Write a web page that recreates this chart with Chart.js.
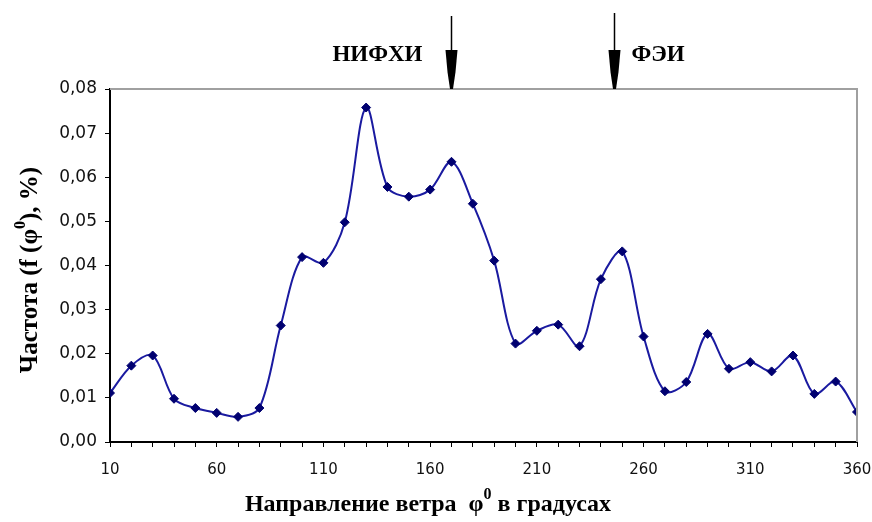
<!DOCTYPE html>
<html>
<head>
<meta charset="utf-8">
<script src="https://cdn.jsdelivr.net/npm/chart.js@4"></script>
<style>
  html, body { margin: 0; padding: 0; background: #fff; }
  #wrap { width: 872px; height: 522px; }
</style>
</head>
<body>
<div id="wrap"><canvas id="windChart" width="872" height="522"></canvas></div>
<script>
// направление ветра, градусы
var angles = [10, 20, 30, 40, 50, 60, 70, 80, 90, 100, 110, 120, 130, 140, 150, 160, 170, 180,
              190, 200, 210, 220, 230, 240, 250, 260, 270, 280, 290, 300, 310, 320, 330, 340, 350, 360];
// частота
var freq = [0.0111, 0.0173, 0.0196, 0.0098, 0.0077, 0.0066, 0.0057, 0.0077, 0.0264, 0.0419, 0.0406, 0.0498,
            0.0758, 0.0578, 0.0556, 0.0572, 0.0635, 0.0540, 0.0411, 0.0223, 0.0252, 0.0266, 0.0217, 0.0369,
            0.0432, 0.0239, 0.0115, 0.0136, 0.0245, 0.0166, 0.0181, 0.0160, 0.0196, 0.0109, 0.0137, 0.0068];
var xTickLabels = [10, 60, 110, 160, 210, 260, 310, 360];
// станции со стрелками
var stations = ['НИФХИ', 'ФЭИ'];
var stationAngles = [170, 246];

function serif(size) { return 'bold ' + size + 'px "Liberation Serif", "DejaVu Serif", serif'; }

// подпись с надстрочным нулём после φ
function drawPhiText(ctx, parts, cx, cy, size) {
  var w = 0;
  parts.forEach(function (p) {
    ctx.font = p[1] ? serif(16) : serif(size);
    w += ctx.measureText(p[0]).width;
  });
  var x = cx - w / 2;
  parts.forEach(function (p) {
    ctx.font = p[1] ? serif(16) : serif(size);
    ctx.fillText(p[0], x, p[1] ? cy - 10 : cy);
    x += ctx.measureText(p[0]).width;
  });
}

var extras = {
  id: 'extras',
  afterDraw: function (chart) {
    var ctx = chart.ctx, a = chart.chartArea, xs = chart.scales.x;
    ctx.save();
    // серая рамка сверху и справа
    ctx.strokeStyle = '#a0a0a0';
    ctx.lineWidth = 2;
    ctx.beginPath();
    ctx.moveTo(a.left, a.top);
    ctx.lineTo(a.right, a.top);
    ctx.lineTo(a.right, a.bottom);
    ctx.stroke();

    // стрелки
    ctx.fillStyle = '#000';
    ctx.strokeStyle = '#000';
    stationAngles.forEach(function (ang, i) {
      var x = Math.round(xs.getPixelForValue(ang)) + 0.5;
      ctx.lineWidth = 1.5;
      ctx.beginPath();
      ctx.moveTo(x, i === 0 ? 16 : 13);
      ctx.lineTo(x, 52);
      ctx.stroke();
      ctx.beginPath();
      ctx.moveTo(x - 6, 50);
      ctx.lineTo(x + 6, 50);
      ctx.lineTo(x + 4, 72);
      ctx.lineTo(x + 1.5, a.top);
      ctx.lineTo(x - 1.5, a.top);
      ctx.lineTo(x - 4, 72);
      ctx.closePath();
      ctx.fill();
      ctx.font = serif(23);
      ctx.textBaseline = 'middle';
      if (i === 0) {
        ctx.textAlign = 'right';
        ctx.fillText(stations[i], x - 29, 55);
      } else {
        ctx.textAlign = 'left';
        ctx.fillText(stations[i], x + 17, 55);
      }
    });

    // подпись оси X
    ctx.textAlign = 'left';
    ctx.textBaseline = 'middle';
    drawPhiText(ctx, [['Направление ветра  φ', false], ['0', true], [' в градусах', false]], 428, 505, 24);

    // подпись оси Y
    ctx.save();
    ctx.translate(31, 270);
    ctx.rotate(-Math.PI / 2);
    drawPhiText(ctx, [['Частота (f (φ', false], ['0', true], ['), %)', false]], 0, 0, 25);
    ctx.restore();
    ctx.restore();
  }
};

var ctx = document.getElementById('windChart').getContext('2d');
var windChart = new Chart(ctx, {
  type: 'line',
  data: {
    datasets: [{
      data: angles.map(function (a, i) { return { x: a, y: freq[i] }; }),
      borderColor: '#1a1aa0',
      borderWidth: 2,
      tension: 0.33,
      pointStyle: 'rectRot',
      pointRadius: 4.5,
      pointBackgroundColor: '#000070',
      pointBorderColor: '#000070',
      pointBorderWidth: 1
    }]
  },
  plugins: [extras],
  options: {
    responsive: false,
    animation: false,
    layout: { padding: { top: 89, right: 15, left: 0, bottom: 0 } },
    plugins: { legend: { display: false }, tooltip: { enabled: false } },
    scales: {
      x: {
        type: 'linear',
        min: 10,
        max: 360,
        afterFit: function (s) { s.height = 80; s.paddingLeft = 0; s.paddingRight = 0; },
        grid: { drawOnChartArea: false, drawTicks: true, tickLength: 5, color: '#000' },
        border: { display: true, color: '#000', width: 2 },
        ticks: {
          stepSize: 10,
          autoSkip: false,
          maxRotation: 0,
          padding: 14,
          color: '#111',
          font: { family: '"DejaVu Sans", sans-serif', size: 15 },
          callback: function (v) { return xTickLabels.indexOf(v) >= 0 ? String(v) : ''; }
        }
      },
      y: {
        min: 0,
        max: 0.08,
        afterFit: function (s) { s.width = 110; s.paddingTop = 0; s.paddingBottom = 0; },
        grid: { drawOnChartArea: false, drawTicks: true, tickLength: 5, color: '#000' },
        border: { display: true, color: '#000', width: 2 },
        ticks: {
          stepSize: 0.01,
          padding: 8,
          color: '#111',
          font: { family: '"DejaVu Sans", sans-serif', size: 17 },
          callback: function (v) { return v.toFixed(2).replace('.', ','); }
        }
      }
    }
  }
});
</script>
</body>
</html>
